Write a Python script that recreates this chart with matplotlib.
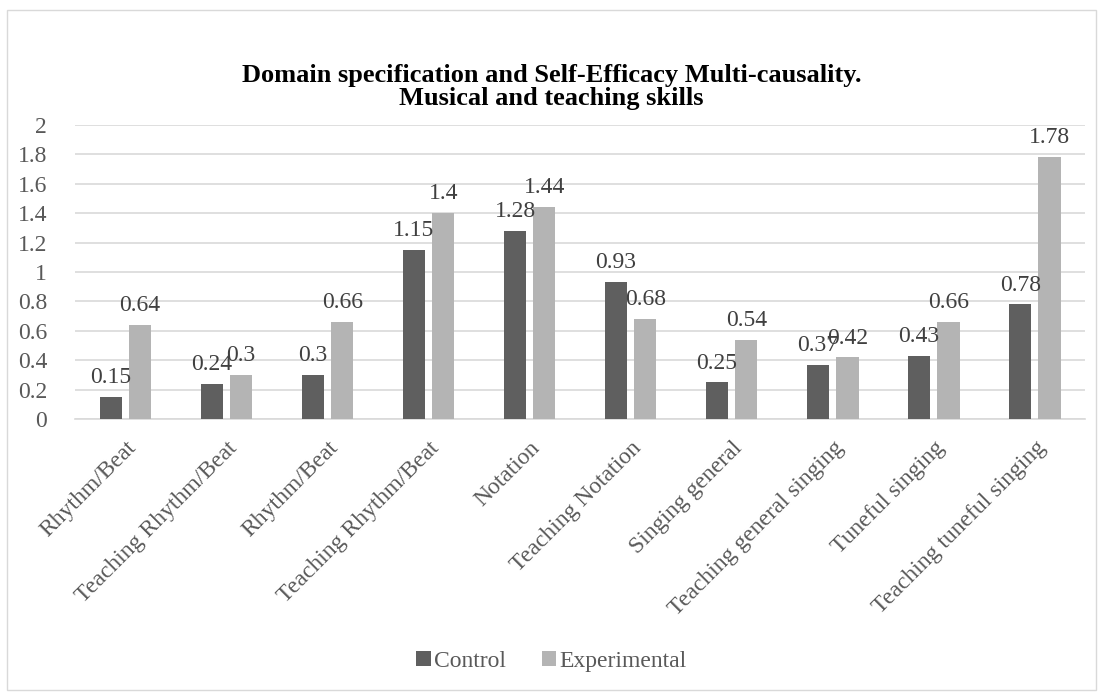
import numpy as np
import matplotlib.pyplot as plt
from matplotlib.patches import Rectangle

# Skill domains and group means
categories = ["Rhythm/Beat", "Teaching Rhythm/Beat", "Rhythm/Beat",
              "Teaching Rhythm/Beat", "Notation", "Teaching Notation",
              "Singing general", "Teaching general singing",
              "Tuneful singing", "Teaching tuneful singing"]
control = [0.15, 0.24, 0.3, 1.15, 1.28, 0.93, 0.25, 0.37, 0.43, 0.78]
experimental = [0.64, 0.3, 0.66, 1.4, 1.44, 0.68, 0.54, 0.42, 0.66, 1.78]

plt.rcParams["font.family"] = ["Liberation Serif", "DejaVu Serif"]
txt = "#595959"

fig = plt.figure(figsize=(11.03, 6.93), dpi=100)
ax = fig.add_axes([0.068, 0.395, 0.916, 0.425])

# chart frame
fig.patches.append(Rectangle((0.006, 0.004), 0.988, 0.982, transform=fig.transFigure,
                             fill=False, edgecolor="#d9d9d9", linewidth=1))

x = np.arange(len(categories))
w = 0.22
gap = 0.035
b1 = ax.bar(x - w / 2 - gap, control, w, color="#5f5f5f", label="Control", zorder=3)
b2 = ax.bar(x + w / 2 + gap, experimental, w, color="#b4b4b4", label="Experimental", zorder=3)

for bars, vals in ((b1, control), (b2, experimental)):
    for r, v in zip(bars, vals):
        ax.text(r.get_x() + r.get_width() / 2, v + 0.06, f"{v:g}",
                ha="center", va="bottom", fontsize=17, color="#404040")

ax.set_xlim(-0.5, len(categories) - 0.5)
ax.set_ylim(0, 2)
ax.set_yticks(np.arange(0, 2.01, 0.2))
ax.set_yticklabels([f"{v:g}" for v in np.arange(0, 2.01, 0.2).round(1)])
ax.yaxis.grid(True, color="#d9d9d9", linewidth=1.2, zorder=0)
ax.set_xticks(x)
ax.set_xticklabels(categories, rotation=45, ha="right", rotation_mode="anchor")
ax.tick_params(axis="both", length=0, labelsize=17, labelcolor=txt)
ax.tick_params(axis="y", pad=20)
ax.tick_params(axis="x", pad=13)
for s in ["top", "right", "left"]:
    ax.spines[s].set_visible(False)
ax.spines["bottom"].set_color("#d9d9d9")
ax.spines["bottom"].set_linewidth(1.2)

fig.text(0.5, 0.875, "Domain specification and Self-Efficacy Multi-causality.\nMusical and teaching skills",
         ha="center", va="center", fontsize=19, fontweight="bold", linespacing=1.0)

fig.legend(loc="lower center", bbox_to_anchor=(0.5, 0.0), ncol=2, frameon=False,
           fontsize=17, handlelength=0.6, handleheight=0.6, handletextpad=0.15,
           columnspacing=1.5, labelcolor=txt)

plt.savefig("out.png", dpi=100)
